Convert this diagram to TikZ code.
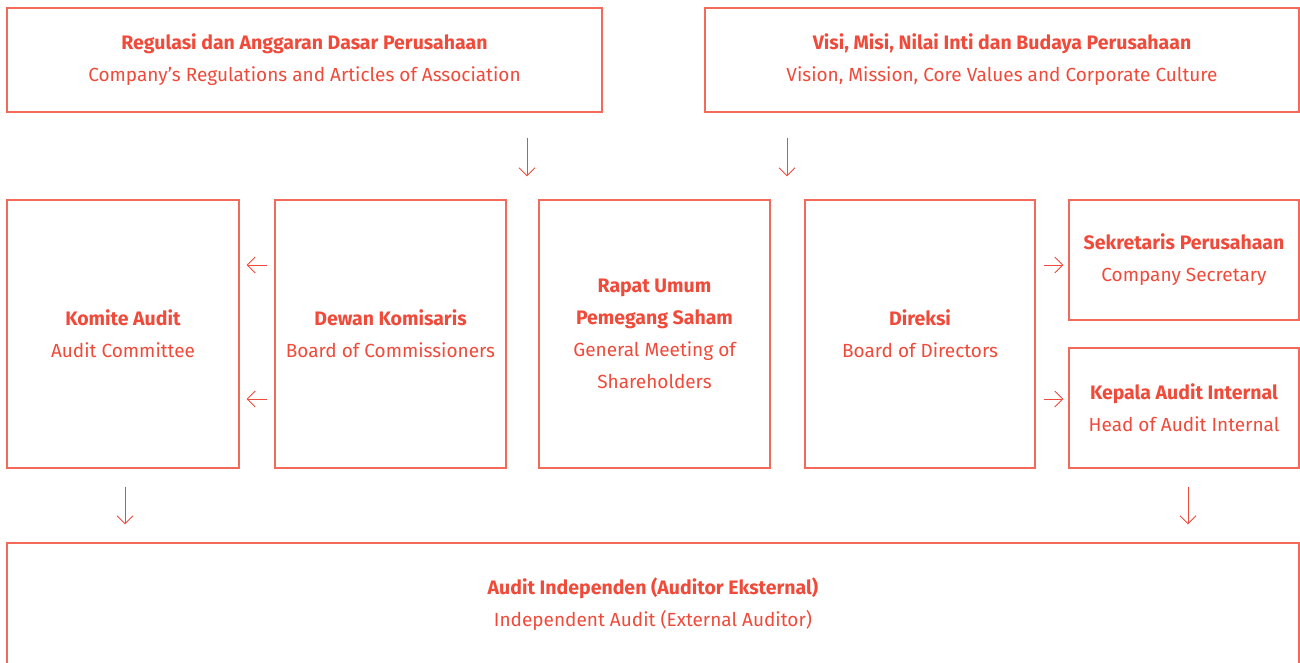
\documentclass[tikz,border=0pt]{standalone}
\usepackage{fontspec}
\setmainfont{Fira Sans}
\usetikzlibrary{arrows.meta}
\definecolor{txt}{RGB}{239,74,58}
\definecolor{bord}{RGB}{243,105,90}
\tikzset{
  box/.style={draw=bord, line width=1.1pt, inner sep=0pt, align=center, text=txt,
    font=\fontsize{19}{32}\selectfont},
  arr/.style={draw=txt, line width=1pt, -{Straight Barb[length=8pt,width=16pt,line width=1pt]}},
}
\newcommand{\ttl}[1]{{\fontsize{19.5}{32}\selectfont\textbf{#1}}}
\begin{document}
\begin{tikzpicture}[x=1pt,y=-1pt]
\useasboundingbox (0,0) rectangle (1300,662);
\node[box, minimum width=595pt, minimum height=104pt] (topL) at (304.5,60) {\ttl{Regulasi dan Anggaran Dasar Perusahaan}\\Company’s Regulations and Articles of Association};
\node[box, minimum width=594pt, minimum height=104pt] (topR) at (1002,60) {\ttl{Visi, Misi, Nilai Inti dan Budaya Perusahaan}\\Vision, Mission, Core Values and Corporate Culture};
\node[box, minimum width=232pt, minimum height=268pt] (komite) at (123,334) {\ttl{Komite Audit}\\Audit Committee};
\node[box, minimum width=231pt, minimum height=268pt] (dewan) at (390.5,334) {\ttl{Dewan Komisaris}\\Board of Commissioners};
\node[box, minimum width=231pt, minimum height=268pt] (rups) at (654.5,334) {\ttl{Rapat Umum}\\\ttl{Pemegang Saham}\\General Meeting of\\Shareholders};
\node[box, minimum width=230pt, minimum height=268pt] (direksi) at (920,334) {\ttl{Direksi}\\Board of Directors};
\node[box, minimum width=230pt, minimum height=120pt] (sek) at (1184,260) {\ttl{Sekretaris Perusahaan}\\Company Secretary};
\node[box, minimum width=230pt, minimum height=120pt] (kepala) at (1184,408) {\ttl{Kepala Audit Internal}\\Head of Audit Internal};
\node[box, minimum width=1292pt, minimum height=122pt] (indep) at (653,604) {\ttl{Audit Independen (Auditor Eksternal)}\\Independent Audit (External Auditor)};
\coordinate (c1) at (527,0);
\coordinate (c2) at (787,0);
\coordinate (c3) at (125,0);
\coordinate (c4) at (1188,0);
\draw[arr, shorten <=25pt, shorten >=23pt] (topL.south -| c1) -- (rups.north -| c1);
\draw[arr, shorten <=25pt, shorten >=23pt] (topR.south -| c2) -- (rups.north -| c2);
\draw[arr, shorten <=7pt, shorten >=7pt] ([yshift=69pt]dewan.west) -- ([yshift=69pt]komite.east);
\draw[arr, shorten <=7pt, shorten >=7pt] ([yshift=-65pt]dewan.west) -- ([yshift=-65pt]komite.east);
\draw[arr, shorten <=8pt, shorten >=5pt] ([yshift=69pt]direksi.east) -- ([yshift=-5pt]sek.west);
\draw[arr, shorten <=8pt, shorten >=5pt] ([yshift=-65pt]direksi.east) -- ([yshift=9pt]kepala.west);
\draw[arr, shorten <=18pt, shorten >=18pt] (komite.south -| c3) -- (indep.north -| c3);
\draw[arr, shorten <=18pt, shorten >=18pt] (kepala.south -| c4) -- (indep.north -| c4);
\end{tikzpicture}
\end{document}
